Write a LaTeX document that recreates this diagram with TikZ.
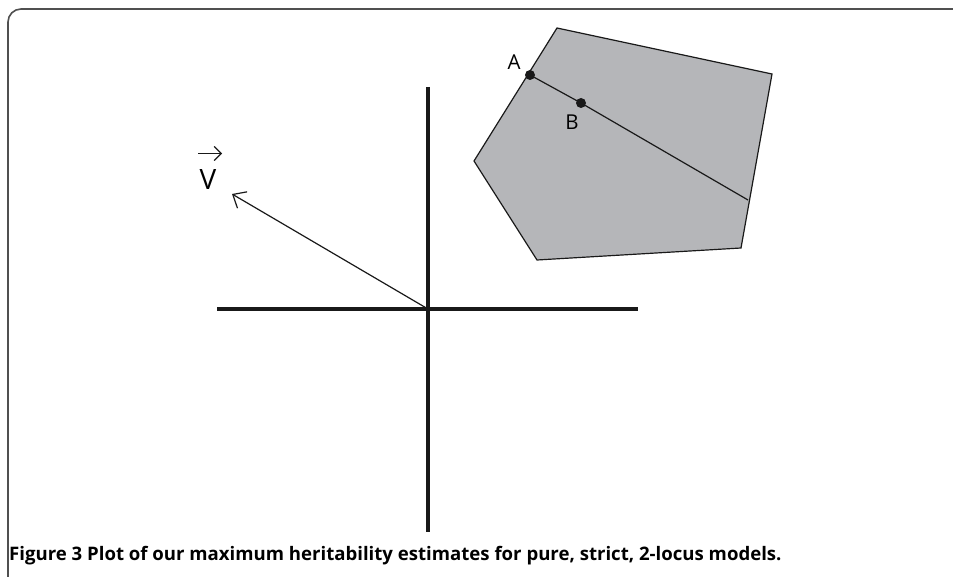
\documentclass[tikz,border=0pt]{standalone}
\usepackage{fontspec}
\setmainfont{Open Sans}
\usetikzlibrary{arrows.meta}
\definecolor{polygray}{RGB}{181,182,185}
\definecolor{framegray}{RGB}{80,80,80}
\tikzset{
  axis/.style={line width=3.5pt, black!90},
  thin/.style={line width=1.2pt, black!90},
  dot/.style={circle, fill=black!90, inner sep=0pt, minimum size=10pt},
  lbl/.style={font=\fontsize{20.5}{21}\selectfont, inner sep=0pt}
}
\begin{document}
\begin{tikzpicture}[x=1pt,y=-1pt]
\useasboundingbox (0,0) rectangle (953,577);
% frame
\draw[framegray, line width=1.6pt] (8,577) -- (8,22) arc[start angle=180, end angle=270, radius=13] -- (953,9);
% polygon
\coordinate (p1) at (557,28);
\coordinate (p2) at (772,74);
\coordinate (p3) at (741,248);
\coordinate (p4) at (537,260);
\coordinate (p5) at (474,161);
\filldraw[fill=polygray, draw=black!90, line width=1.2pt] (p1) -- (p2) -- (p3) -- (p4) -- (p5) -- cycle;
\node[dot] (A) at (530,75) {};
\node[dot] (B) at (581,103) {};
\coordinate (E) at (748,200);
\draw[thin] (A.center) -- (B.center) -- (E);
\node[lbl] at (514,62) {A};
\node[lbl] at (572,122) {B};
% axes
\coordinate (O) at (428,309);
\coordinate (xl) at (217,309);
\coordinate (xr) at (638,309);
\coordinate (yt) at (428,87);
\coordinate (yb) at (428,532);
\draw[axis] (xl) -- (xr);
\draw[axis] (yt) -- (yb);
% vector
\coordinate (vt) at (232,194);
\draw[thin, -{Straight Barb[length=11pt,width=19pt,line width=1.2pt]}] (O) -- (vt);
\node[font=\fontsize{28}{28}\selectfont, inner sep=0pt] (V) at (208,180) {V};
\draw[thin, -{Straight Barb[length=7pt,width=14pt,line width=1.2pt]}] (198,153.5) -- (222,153.5);
% caption
\node[anchor=west, inner sep=0pt, font=\bfseries\fontsize{18.6}{19}\selectfont] (cap) at (9,556) {Figure 3 Plot of our maximum heritability estimates for pure, strict, 2-locus models.};
\end{tikzpicture}
\end{document}
